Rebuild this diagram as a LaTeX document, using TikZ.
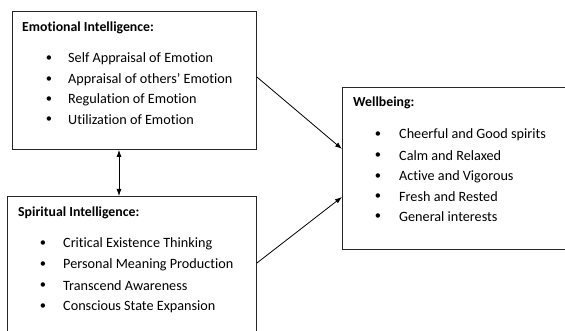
\documentclass[tikz,border=0pt]{standalone}
\usepackage{fontspec}
\setmainfont{Carlito}[RawFeature=-liga]
\usetikzlibrary{arrows.meta}
\begin{document}
\begin{tikzpicture}[x=1pt,y=-1pt,
  box/.style={draw=black!85,line width=0.9pt,inner sep=0pt,anchor=north west},
  title/.style={anchor=west,inner sep=0pt,font=\fontsize{13.8}{15}\selectfont\bfseries},
  item/.style={anchor=west,inner sep=0pt,font=\fontsize{14.2}{16}\selectfont},
  bul/.style={anchor=center,inner sep=0pt,font=\fontsize{12.5}{14}\selectfont},
  conn/.style={line width=0.8pt,-{Latex[length=7pt,width=5pt]}}]
\useasboundingbox (0,0) rectangle (565,331);
\clip (0,0) rectangle (565,331);
\fill[white] (0,0) rectangle (565,331);
% boxes
\node[box,minimum width=244pt,minimum height=138pt] (ei) at (12,11) {};
\node[box,minimum width=249pt,minimum height=160pt] (si) at (7,196) {};
\node[box,minimum width=240pt,minimum height=162pt] (wb) at (342,87) {};
% Emotional Intelligence
\node[title] (eit) at (22,28) {Emotional Intelligence:};
\foreach \y/\t [count=\i] in {59/Self Appraisal of Emotion,80/Appraisal of others’ Emotion,100/Regulation of Emotion,120/Utilization of Emotion}{
  \node[bul] (eib\i) at (49,\y) {•};
  \node[item] (eii\i) at (68,\y) {\t};
}
% Spiritual Intelligence
\node[title] (sit) at (18,213) {Spiritual Intelligence:};
\foreach \y/\t [count=\i] in {244/Critical Existence Thinking,265/Personal Meaning Production,286/Transcend Awareness,307/Conscious State Expansion}{
  \node[bul] (sib\i) at (43,\y) {•};
  \node[item] (sii\i) at (63,\y) {\t};
}
% Wellbeing
\node[title] (wbt) at (353,103) {Wellbeing:};
\foreach \y/\t [count=\i] in {135/Cheerful and Good spirits,156/Calm and Relaxed,177/Active and Vigorous,197/Fresh and Rested,217/General interests}{
  \node[bul] (wbb\i) at (378,\y) {•};
  \node[item] (wbi\i) at (399,\y) {\t};
}
% connectors
\coordinate (a1) at (ei.north east |- 0,77);
\coordinate (b1) at (wb.north west |- 0,149);
\coordinate (a2) at (si.north east |- 0,263);
\coordinate (b2) at (wb.north west |- 0,197);
\coordinate (v1) at (ei.south west -| 119,0);
\coordinate (v2) at (si.north west -| 119,0);
\draw[conn] (a1) -- (b1);
\draw[conn] (a2) -- (b2);
\draw[line width=0.8pt,{Latex[length=7pt,width=5pt]}-{Latex[length=7pt,width=5pt]}] (v1) -- (v2);
\end{tikzpicture}
\end{document}
